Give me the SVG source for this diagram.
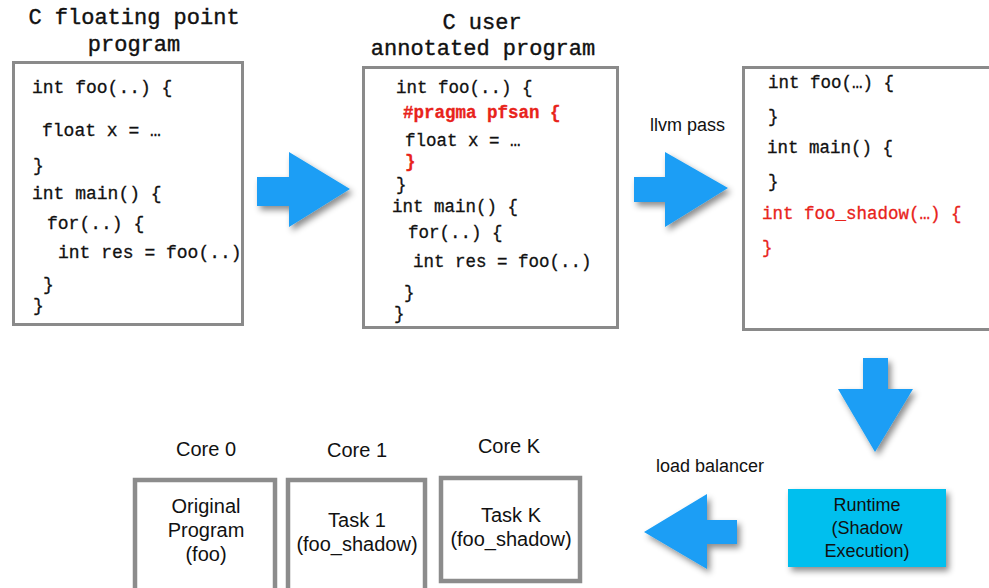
<svg xmlns="http://www.w3.org/2000/svg" width="989" height="588" viewBox="0 0 989 588">
<defs>
<filter id="sh" x="-30%" y="-30%" width="160%" height="160%">
<feDropShadow dx="3" dy="4" stdDeviation="3" flood-color="#000" flood-opacity="0.45"/>
</filter>
<style>
.title{font-family:"Liberation Mono","DejaVu Sans Mono",monospace;font-size:22px;fill:#111;stroke:#111;stroke-width:0.4;text-anchor:middle}
.code{font-family:"Liberation Mono","DejaVu Sans Mono",monospace;font-size:17.5px;fill:#111;stroke:#111;stroke-width:0.3}
.red{fill:#e8231b;stroke:#e8231b}
.b{font-weight:bold}
.lbl{font-family:"Liberation Sans",Arial,sans-serif;font-size:18px;fill:#111}
.big{font-family:"Liberation Sans",Arial,sans-serif;font-size:20px;fill:#111;text-anchor:middle}
.box{fill:#fff;stroke:#8a8a8a;stroke-width:3}
.core{fill:#fff;stroke:#8c8c8c;stroke-width:4.5}
.arrow{fill:#1a9ef5;filter:url(#sh)}
</style>
</defs>
<rect width="989" height="588" fill="#fff"/>

<g id="prog1">
<text class="title" x="134" y="24">C floating point</text>
<text class="title" x="134" y="51">program</text>
<rect class="box" x="13.5" y="62.5" width="229" height="262"/>
<g class="code" style="font-size:18px">
<text x="32" y="93">int foo(..) {</text>
<text x="42" y="136">float x = …</text>
<text x="33" y="171">}</text>
<text x="32" y="199">int main() {</text>
<text x="47" y="229">for(..) {</text>
<text x="58" y="258">int res = foo(..)</text>
<text x="43" y="290">}</text>
<text x="33" y="311">}</text>
</g>
</g>

<g id="prog2">
<text class="title" x="482" y="29">C user</text>
<text class="title" x="483" y="55">annotated program</text>
<rect class="box" x="363.5" y="67.5" width="254" height="260"/>
<g class="code">
<text x="396" y="93">int foo(..) {</text>
<text class="red b" x="403" y="118">#pragma pfsan {</text>
<text x="405" y="146">float x = …</text>
<text class="red b" x="405" y="167">}</text>
<text x="396" y="190">}</text>
<text x="392" y="212">int main() {</text>
<text x="408" y="238">for(..) {</text>
<text x="413" y="267">int res = foo(..)</text>
<text x="404" y="298">}</text>
<text x="394" y="319">}</text>
</g>
</g>

<g id="prog3">
<rect class="box" x="743.5" y="67.5" width="260" height="262"/>
<g class="code">
<text x="768" y="88">int foo(…) {</text>
<text x="768" y="122">}</text>
<text x="767" y="153">int main() {</text>
<text x="768" y="187">}</text>
<text class="red" x="762" y="219">int foo_shadow(…) {</text>
<text class="red" x="762" y="253">}</text>
</g>
</g>

<g id="runtime">
<rect x="788" y="489" width="158" height="78" fill="#00bfee" filter="url(#sh)"/>
<text class="lbl" x="867" y="511" text-anchor="middle">Runtime</text>
<text class="lbl" x="867" y="534" text-anchor="middle">(Shadow</text>
<text class="lbl" x="867" y="557" text-anchor="middle">Execution)</text>
</g>

<g id="core0">
<text class="big" x="206" y="456">Core 0</text>
<rect class="core" x="135" y="480" width="140" height="120"/>
<text class="big" x="206" y="513">Original</text>
<text class="big" x="206" y="537">Program</text>
<text class="big" x="206" y="561">(foo)</text>
</g>

<g id="core1">
<text class="big" x="357" y="457">Core 1</text>
<rect class="core" x="288" y="480" width="137" height="120"/>
<text class="big" x="357" y="527">Task 1</text>
<text class="big" x="357" y="551">(foo_shadow)</text>
</g>

<g id="coreK">
<text class="big" x="509" y="453">Core K</text>
<rect class="core" x="441" y="478" width="139" height="103"/>
<text class="big" x="511" y="522">Task K</text>
<text class="big" x="511" y="546">(foo_shadow)</text>
</g>

<g id="connectors">
<polygon class="arrow" points="257,177 289,177 289,152 350,189 289,227 289,206 257,206"/>
<polygon class="arrow" points="634,177 665,177 665,152 728,188 665,227 665,202 634,202"/>
<text class="lbl" x="650" y="131">llvm pass</text>
<polygon class="arrow" points="863,358 888,358 888,389 913,389 875,452 838,389 863,389"/>
<polygon class="arrow" points="737,520 707,520 707,494 644,532 707,569 707,544 737,544"/>
<text class="lbl" x="656" y="472">load balancer</text>
</g>
</svg>
